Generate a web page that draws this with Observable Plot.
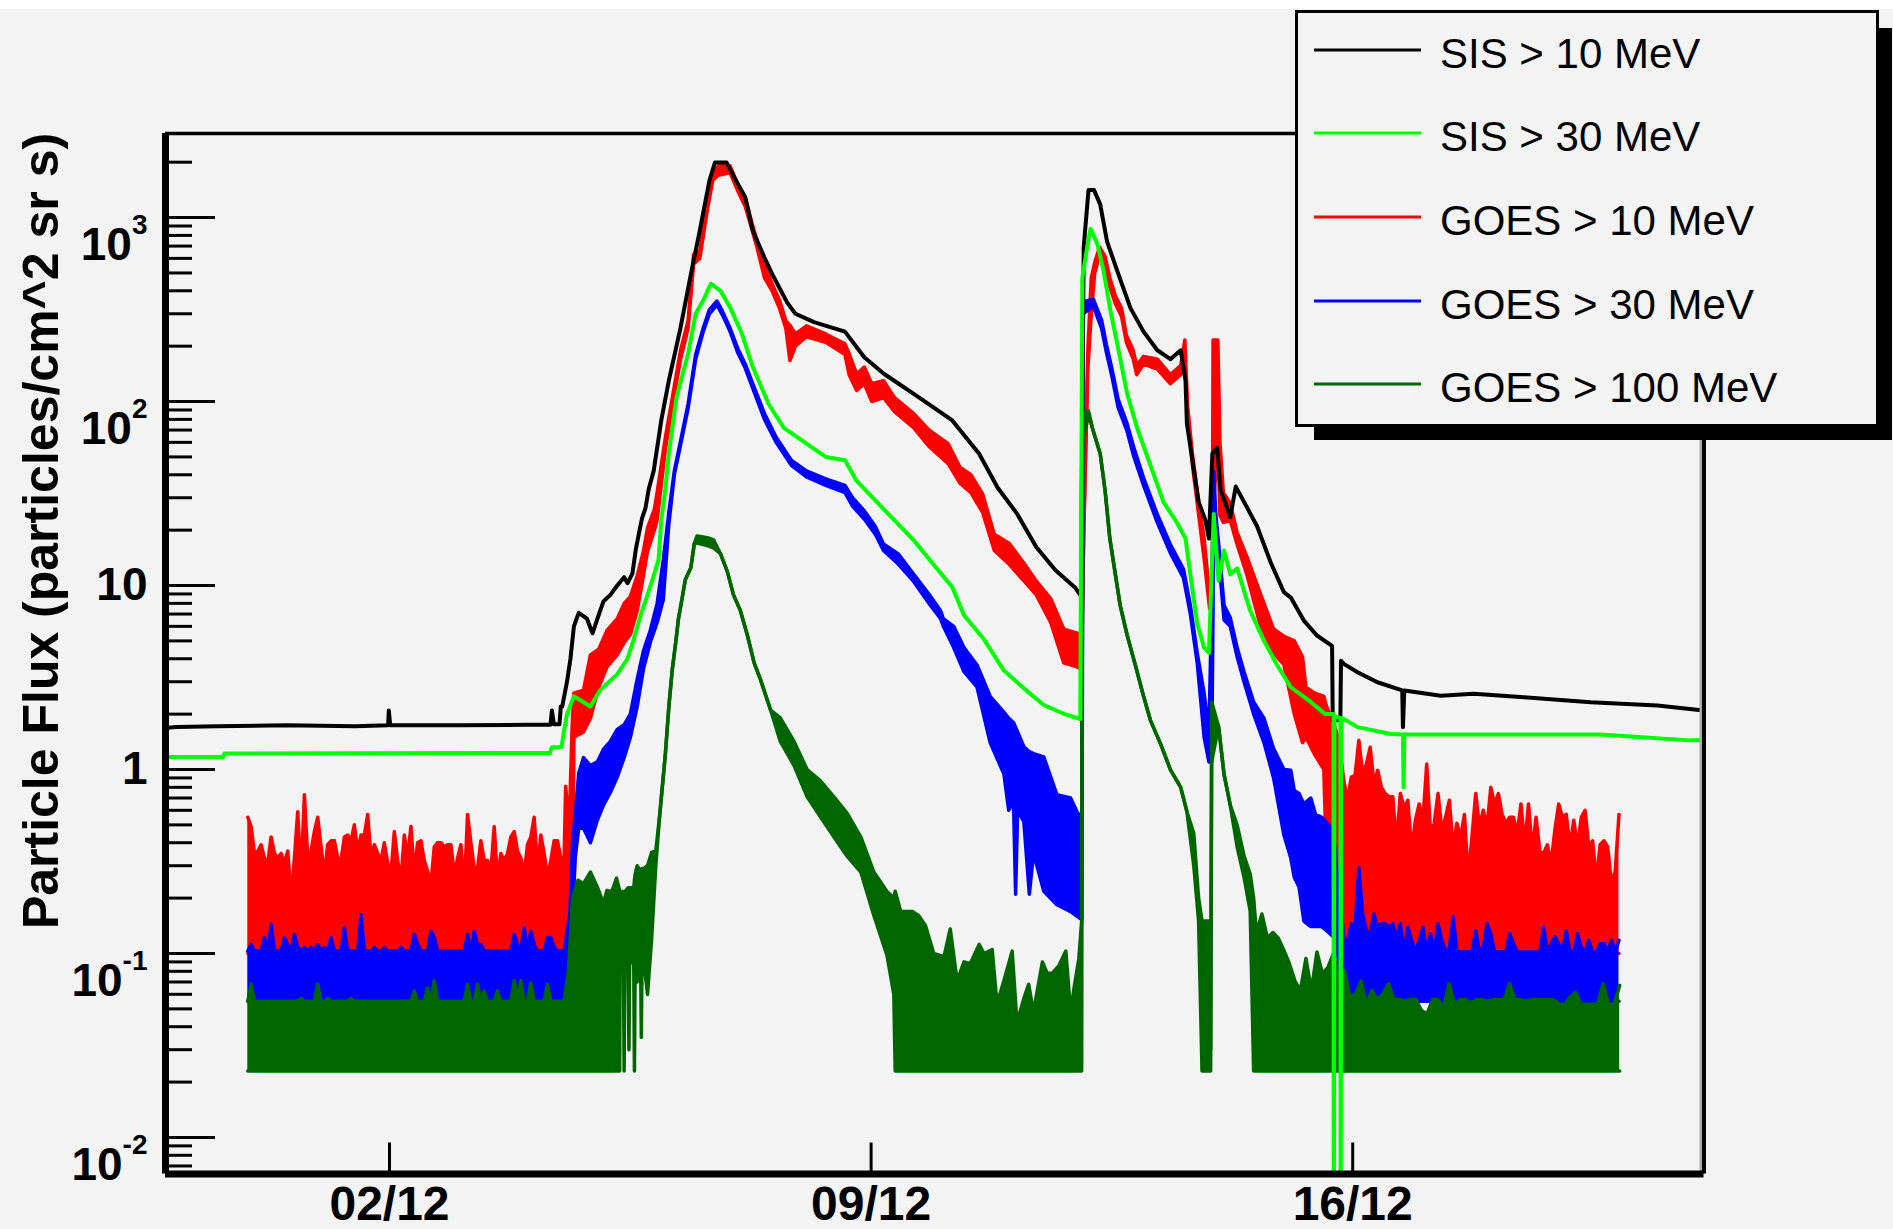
<!DOCTYPE html>
<html>
<head>
<meta charset="utf-8">
<script src="https://cdn.jsdelivr.net/npm/d3@7"></script>
<script src="https://cdn.jsdelivr.net/npm/@observablehq/plot@0.6"></script>
<style>
  html, body { margin: 0; padding: 0; background: #f3f3f3; }
  #wrap { position: relative; width: 1893px; height: 1229px; overflow: hidden; background: #f3f3f3;
          font-family: "Liberation Sans", Arial, Helvetica, sans-serif; }
  #wrap > svg { position: absolute; left: 0; top: 0; }
  #topstrip { position: absolute; left: 0; top: 0; width: 1893px; height: 9px; background: #fff; }
</style>
</head>
<body>
<div id="wrap"><div id="topstrip"></div></div>
<script>
// ---------------- DATA (time = fractional day of December 2006, UTC) ----------------
const seriesNames  = ["SIS > 10 MeV", "SIS > 30 MeV", "GOES > 10 MeV", "GOES > 30 MeV", "GOES > 100 MeV"];
const seriesColors = ["#000000", "#00ff00", "#ff0000", "#0000ff", "#006600"];

const xTickDays   = [2, 9, 16];
const xTickLabels = ["02/12", "09/12", "16/12"];
const yMajor      = [0.01, 0.1, 1, 10, 100, 1000];
const yTickLabels = ["10^-2", "10^-1", "1", "10", "10^2", "10^3"];
const yMinor      = [0.007, 0.008, 0.009,
                     0.02, 0.03, 0.04, 0.05, 0.06, 0.07, 0.08, 0.09,
                     0.2, 0.3, 0.4, 0.5, 0.6, 0.7, 0.8, 0.9,
                     2, 3, 4, 5, 6, 7, 8, 9,
                     20, 30, 40, 50, 60, 70, 80, 90,
                     200, 300, 400, 500, 600, 700, 800, 900, 2000];
const xDomainDays = [-1.256, 21.106];
const yDomain     = [0.00633, 2864];
const yTitle      = "Particle Flux (particles/cm^2 sr s)";

// SIS > 10 MeV  [day, flux]
const sis10 = [[-1.26,1.68],[-1.1,1.70],[-0.5,1.72],[0.5,1.74],[1.5,1.72],[1.98,1.74],[1.99,2.09],[2.01,1.74],
 [3.0,1.74],[4.0,1.75],[4.34,1.75],[4.36,2.09],[4.39,1.76],[4.47,1.76],[4.49,2.2],[4.51,2.2],[4.58,3.0],[4.63,4.0],
 [4.68,6.0],[4.75,7.1],[4.87,6.6],[4.95,5.5],[5.04,6.9],[5.11,8.2],[5.21,8.9],[5.31,10],[5.41,11.1],[5.46,10.3],
 [5.53,11.6],[5.58,15.7],[5.63,19.6],[5.67,23.2],[5.72,26.3],[5.77,33.7],[5.84,42],[5.95,79],[6.06,130],[6.23,252],
 [6.39,513],[6.51,850],[6.65,1590],[6.73,1990],[6.90,1990],[7.01,1660],[7.17,1290],[7.28,850],[7.45,606],[7.56,495],
 [7.78,345],[7.90,300],[8.17,270],[8.62,240],[8.90,174],[9.18,142],[9.62,110],[10.18,79],[10.57,52],[10.84,34],
 [11.12,24.6],[11.40,16.2],[11.68,12.1],[11.96,9.8],[12.05,8.8],[12.09,690],[12.16,1410],[12.24,1410],[12.33,1180],
 [12.43,740],[12.58,510],[12.77,322],[12.96,240],[13.16,190],[13.35,170],[13.50,190],[13.57,130],[13.59,76],
 [13.67,48],[13.76,28.5],[13.86,22.6],[13.91,18],[13.96,52],[14.03,56],[14.08,33],[14.15,28],[14.22,23.5],
 [14.30,34.5],[14.42,28.5],[14.61,21],[14.81,13.3],[15.00,9.2],[15.10,8.6],[15.29,6.45],[15.48,5.35],[15.70,4.7],
 [15.71,1.85],[15.82,1.85],[15.83,3.9],[15.87,3.75],[16.07,3.38],[16.36,2.98],[16.72,2.69],[16.73,1.7],[16.75,2.69],
 [17.28,2.52],[17.76,2.58],[18.49,2.47],[19.46,2.32],[20.43,2.23],[21.1,2.09]];

// SIS > 30 MeV  [day, flux]
const sis30 = [[-1.26,1.17],[-0.42,1.17],[-0.40,1.22],[4.33,1.23],[4.36,1.32],[4.50,1.32],[4.53,1.57],[4.58,2.0],
 [4.68,2.5],[4.92,2.2],[5.06,2.7],[5.31,3.3],[5.46,4.0],[5.55,5.1],[5.65,6.9],[5.75,8.9],[5.84,11.3],[5.91,13.8],
 [5.95,22.7],[6.01,33.7],[6.06,52],[6.17,105],[6.34,182],[6.45,300],[6.56,355],[6.67,437],[6.81,400],[6.95,325],
 [7.12,235],[7.28,154],[7.51,97],[7.73,72],[8.06,59],[8.34,50],[8.62,48],[8.79,37],[9.06,29],[9.34,22.6],
 [9.62,17.6],[9.90,13.1],[10.18,9.8],[10.35,6.9],[10.64,5.1],[10.93,3.45],[11.27,2.66],[11.51,2.24],[11.80,2.01],
 [12.04,1.88],[12.07,470],[12.14,690],[12.19,870],[12.29,715],[12.38,510],[12.48,310],[12.58,204],[12.72,111],
 [12.87,71],[13.06,45],[13.25,28.4],[13.45,21.8],[13.57,18],[13.64,11.5],[13.74,6.2],[13.84,4.6],[13.91,4.3],
 [13.98,24.5],[14.05,10.6],[14.13,15.5],[14.22,11.5],[14.32,12.4],[14.51,7.3],[14.71,5.0],[14.90,3.7],[15.10,2.8],
 [15.39,2.33],[15.60,2.0],[15.72,2.0],[15.725,0.001],[15.735,1.95],[15.82,1.9],[15.825,0.001],[15.835,1.9],
 [15.87,1.88],[16.07,1.7],[16.55,1.56],[16.73,1.55],[16.74,0.80],[16.75,1.55],[17.42,1.55],[19.6,1.55],
 [20.9,1.44],[21.1,1.44]];

// GOES envelopes of the noisy 5-minute data: [day, low, high]
const goes10 = [[4.56,0.10,0.81],[4.61,0.10,0.48],[4.655,0.10,1.73],[4.68,1.5,2.6],[4.82,1.6,2.7],[4.92,1.9,4.2],
 [5.04,2.8,4.5],[5.16,3.6,5.7],[5.31,4.2,6.6],[5.41,4.9,8.0],[5.50,5.4,8.7],[5.60,7.3,11.3],[5.69,11.3,15.3],
 [5.75,15.3,20.6],[5.85,20,26],[5.89,22.7,32],[6.01,55,64],[6.12,98,110],[6.23,170,190],[6.34,250,275],
 [6.42,560,630],[6.51,600,660],[6.62,1100,1240],[6.70,1600,1730],[6.78,1700,1910],[6.95,1750,1910],
 [7.06,1400,1520],[7.17,1150,1290],[7.26,880,960],[7.34,690,750],[7.45,470,560],[7.56,400,437],[7.67,320,355],
 [7.76,250,275],[7.82,167,260],[7.90,200,233],[8.06,225,258],[8.34,210,233],[8.62,180,206],[8.68,140,182],
 [8.79,115,141],[8.90,125,154],[9.01,100,125],[9.18,105,130],[9.34,88,105],[9.62,72,86],[9.84,57,70],
 [10.12,46,59],[10.29,36,44],[10.45,32,40],[10.62,25,31.5],[10.79,15.5,19],[11.01,13,16.9],[11.23,10.5,13.1],
 [11.40,8.9,10.6],[11.61,6.3,8.5],[11.80,3.8,5.8],[12.00,3.6,5.5],[12.06,3.5,4.5],[12.09,19,19],[12.15,150,190],
 [12.20,300,470],[12.25,500,570],[12.32,620,690],[12.40,560,615],[12.47,420,470],[12.55,340,375],[12.64,290,322],
 [12.71,210,229],[12.81,170,190],[12.86,140,157],[12.96,160,176],[13.16,150,170],[13.35,125,140],[13.50,140,157],
 [13.56,160,216],[13.60,85,95],[13.67,45,52],[13.74,28,33],[13.84,14,18],[13.92,7.5,9],[13.96,8,12],
 [13.97,25,216],[14.04,60,216],[14.07,24,60],[14.12,22,32],[14.22,22.6,28],[14.32,16.7,19.4],[14.46,11.5,14.4],
 [14.65,6.2,9.2],[14.85,4.3,5.8],[15.00,3.7,5.3],[15.15,2.0,5.0],[15.27,1.4,4.1],[15.32,1.5,2.8],[15.45,1.2,2.6],
 [15.58,1.0,2.5],[15.62,0.3,2.2],[15.72,0.15,1.8],[15.80,0.12,1.44]];

const goes30 = [[4.62,0.055,0.163],[4.66,0.16,0.40],[4.70,0.334,0.57],[4.75,0.48,0.955],[4.82,0.48,1.16],
 [4.92,0.40,1.05],[5.02,0.53,1.10],[5.11,0.64,1.29],[5.21,0.75,1.42],[5.31,0.91,1.65],[5.41,1.16,1.75],
 [5.50,1.49,2.0],[5.60,2.2,3.1],[5.69,3.5,4.4],[5.79,4.9,5.7],[5.89,6.3,8.0],[5.98,8.4,13.8],[6.06,21.6,25],
 [6.14,40,42],[6.23,58,61],[6.34,92,97],[6.45,170,180],[6.56,240,251],[6.65,300,316],[6.76,335,352],
 [6.84,295,309],[6.95,240,251],[7.06,185,195],[7.17,152,160],[7.28,118,125],[7.45,80,86],[7.62,60,64],
 [7.84,45,48],[8.06,39,42],[8.34,35,38],[8.62,32,35],[8.73,27,30],[8.90,23,25.5],[9.06,19,21],[9.18,15.5,16.8],
 [9.40,13,14.8],[9.62,10.5,11.5],[9.84,8.0,9.0],[10.01,6.6,7.3],[10.05,6.0,6.6],[10.20,4.6,6.0],[10.35,3.4,4.6],
 [10.54,2.8,3.7],[10.73,1.4,2.5],[10.93,0.945,2.05],[11.00,0.6,1.9],[11.07,0.67,1.8],[11.10,0.21,1.7],
 [11.13,0.6,1.6],[11.22,0.52,1.33],[11.30,0.21,1.25],[11.36,0.35,1.22],[11.51,0.218,1.17],[11.70,0.184,0.73],
 [11.90,0.169,0.70],[12.04,0.155,0.54],[12.065,0.155,0.6],[12.08,300,348],[12.23,330,360],[12.35,250,277],
 [12.42,185,204],[12.50,137,151],[12.59,93,103],[12.72,69,76],[12.82,50,56],[12.96,35,38.5],[13.16,22,24.4],
 [13.35,15,16.7],[13.54,11,12.3],[13.64,7,7.8],[13.74,3.8,4.3],[13.84,1.5,2.6],[13.91,1.1,1.6],[13.95,1.1,7.8],
 [13.98,20,41.5],[14.01,20,24.4],[14.06,13,15.5],[14.13,6.5,7.8],[14.22,6,6.7],[14.32,4.1,4.6],[14.42,3.0,3.4],
 [14.56,2.0,2.33],[14.71,1.4,1.9],[14.85,0.9,1.3],[15.00,0.44,1.0],[15.10,0.33,0.99],[15.15,0.26,0.77],
 [15.22,0.23,0.74],[15.29,0.15,0.65],[15.39,0.14,0.70],[15.46,0.14,0.57],[15.55,0.14,0.55],[15.65,0.13,0.50],
 [15.72,0.123,0.45],[15.78,0.1,0.26]];

const goes100 = [[4.60,0.023,0.08],[4.66,0.023,0.20],[4.74,0.023,0.25],[4.82,0.023,0.24],[4.92,0.023,0.277],
 [5.02,0.023,0.23],[5.11,0.023,0.187],[5.16,0.023,0.22],[5.23,0.023,0.217],[5.30,0.023,0.257],[5.345,0.023,0.22],
 [5.35,0.089,0.217],[5.40,0.089,0.217],[5.41,0.023,0.217],[5.42,0.089,0.217],[5.47,0.08,0.228],[5.48,0.03,0.228],
 [5.49,0.089,0.228],[5.55,0.089,0.228],[5.56,0.023,0.25],[5.57,0.085,0.27],[5.60,0.07,0.30],[5.65,0.089,0.277],
 [5.66,0.035,0.28],[5.67,0.089,0.29],[5.70,0.089,0.29],[5.75,0.06,0.30],[5.81,0.12,0.355],[5.87,0.3,0.36],
 [5.93,0.58,0.58],[6.01,1.22,1.22],[6.06,2.2,2.2],
 [6.11,3.5,3.5],[6.16,4.9,4.9],[6.20,6.6,6.6],[6.25,8.4,8.4],[6.30,10.8,10.8],[6.38,12.5,12.5],[6.43,16.9,16.9],
 [6.47,17,18.6],[6.62,16.5,18.2],[6.71,16,17.7],[6.81,14.9,14.9],[6.91,11.9,11.9],[7.00,8.9,8.9],[7.10,7.3,7.3],
 [7.20,5.4,5.4],[7.30,3.8,3.8],[7.39,3.1,3.1],[7.54,2.1,2.1],[7.68,1.42,1.91],[7.88,1.05,1.42],[8.07,0.71,1.0],
 [8.26,0.555,0.87],[8.46,0.43,0.71],[8.65,0.338,0.58],[8.85,0.277,0.43],[9.04,0.161,0.277],[9.23,0.098,0.217],
 [9.33,0.06,0.20],[9.35,0.023,0.218],[9.43,0.023,0.169],[9.50,0.023,0.169],[9.60,0.023,0.169],[9.69,0.023,0.161],
 [9.79,0.023,0.142],[9.91,0.023,0.100],[10.06,0.023,0.096],[10.15,0.023,0.136],[10.25,0.023,0.071],
 [10.35,0.023,0.090],[10.44,0.023,0.088],[10.57,0.023,0.112],[10.64,0.023,0.100],[10.76,0.023,0.105],
 [10.83,0.023,0.053],[10.93,0.023,0.071],[11.05,0.023,0.103],[11.12,0.023,0.042],[11.22,0.023,0.057],
 [11.29,0.023,0.068],[11.36,0.023,0.048],[11.49,0.023,0.090],[11.56,0.023,0.078],[11.63,0.023,0.078],
 [11.73,0.023,0.086],[11.83,0.023,0.103],[11.90,0.023,0.048],[11.95,0.023,0.065],[12.02,0.023,0.094],
 [12.06,0.023,0.15],[12.075,60,89],[12.16,85,89],[12.22,71,71],[12.33,52,52],[12.40,33,33],[12.47,18,18],
 [12.55,11.5,11.5],[12.62,7.8,7.8],[12.72,5.4,5.4],[12.84,3.7,3.7],[12.96,2.5,2.5],[13.06,1.85,1.85],
 [13.21,1.37,1.37],[13.35,1.0,1.0],[13.50,0.80,0.80],[13.59,0.59,0.59],[13.69,0.30,0.45],[13.76,0.15,0.2],
 [13.81,0.023,0.15],[13.92,0.023,0.15],[13.935,0.023,0.03],[13.95,1.1,2.33],[14.05,1.72,1.72],[14.13,0.94,0.94],
 [14.22,0.64,0.64],[14.32,0.38,0.5],[14.42,0.26,0.34],[14.51,0.17,0.27],[14.56,0.023,0.2]];

// quiet-time background before the first event: regular bins, top of the noise band
const quietStart = -0.06, quietStep = 0.0484;
const goes10QuietFloor = 0.10, goes30QuietFloor = 0.055, goes100QuietFloor = 0.023;
const goes10QuietTop = [0.55,0.49,0.35,0.36,0.39,0.33,0.31,0.43,0.35,0.33,0.35,0.31,0.36,0.20,0.33,0.59,0.26,0.73,0.33,0.36,
 0.46,0.55,0.38,0.27,0.39,0.41,0.41,0.33,0.32,0.43,0.44,0.41,0.50,0.36,0.44,0.44,0.57,0.33,0.39,0.35,
 0.32,0.40,0.31,0.27,0.46,0.32,0.25,0.44,0.33,0.49,0.27,0.40,0.41,0.32,0.28,0.24,0.38,0.40,0.40,0.38,
 0.39,0.39,0.27,0.33,0.39,0.22,0.57,0.40,0.29,0.29,0.41,0.32,0.32,0.28,0.49,0.25,0.35,0.32,0.35,0.43,
 0.46,0.36,0.33,0.27,0.39,0.43,0.55,0.29,0.44,0.35,0.26,0.32,0.41,0.41,0.33,0.33];
const goes30QuietTop = [0.103,0.112,0.103,0.103,0.103,0.122,0.103,0.144,0.103,0.103,0.103,0.122,0.112,0.103,0.127,0.108,
 0.103,0.108,0.103,0.108,0.103,0.112,0.103,0.108,0.103,0.122,0.103,0.103,0.103,0.138,0.103,0.103,0.103,0.103,0.163,
 0.103,0.103,0.103,0.108,0.103,0.103,0.108,0.103,0.103,0.103,0.103,0.108,0.103,0.103,0.103,0.127,0.112,0.103,0.103,
 0.103,0.132,0.122,0.103,0.103,0.103,0.103,0.103,0.103,0.103,0.103,0.103,0.127,0.103,0.132,0.112,0.112,0.103,0.103,
 0.103,0.103,0.103,0.103,0.103,0.103,0.103,0.127,0.112,0.103,0.138,0.103,0.132,0.112,0.103,0.103,0.103,0.122,0.122,
 0.108,0.103,0.103,0.103];
const goes100QuietTop = [0.055,0.068,0.055,0.055,0.055,0.055,0.055,0.055,0.055,0.055,0.055,0.055,0.055,0.055,0.055,0.055,
 0.057,0.055,0.055,0.055,0.055,0.068,0.055,0.055,0.057,0.055,0.055,0.055,0.055,0.055,0.055,0.057,0.055,0.055,0.055,
 0.055,0.055,0.055,0.055,0.055,0.055,0.055,0.055,0.055,0.055,0.055,0.055,0.055,0.055,0.055,0.0625,0.055,0.055,0.055,
 0.065,0.055,0.071,0.055,0.055,0.055,0.055,0.055,0.055,0.055,0.055,0.055,0.068,0.055,0.055,0.068,0.055,0.0625,0.055,
 0.055,0.055,0.0625,0.055,0.055,0.055,0.055,0.071,0.055,0.071,0.055,0.055,0.069,0.055,0.055,0.055,0.055,0.068,0.055,
 0.055,0.055,0.055,0.055];

// background after the second event: regular bins, top of the noise band
const tailStart = 15.87, tailStep = 0.0548;
const goes10TailFloor = 0.10, goes30TailFloor = 0.055;
const goes10TailTop = [0.87,0.68,0.91,0.93,1.44,0.95,1.07,1.32,0.84,0.99,0.80,0.74,0.71,0.71,0.39,0.74,0.62,0.68,0.36,0.53,
 0.65,0.53,1.07,0.45,0.51,0.74,0.47,0.55,0.68,0.38,0.51,0.43,0.57,0.26,0.43,0.74,0.49,0.60,0.49,0.80,
 0.65,0.74,0.57,0.51,0.55,0.55,0.45,0.65,0.39,0.65,0.36,0.55,0.36,0.35,0.39,0.31,0.47,0.65,0.55,0.57,
 0.38,0.53,0.38,0.55,0.60,0.38,0.41,0.25,0.39,0.41,0.38,0.24,0.28,0.57];
const goes30TailTop = [0.123,0.113,0.145,0.139,0.294,0.164,0.133,0.128,0.164,0.139,0.145,0.145,0.139,0.145,0.123,0.145,
 0.102,0.139,0.118,0.102,0.118,0.139,0.102,0.128,0.102,0.145,0.118,0.102,0.108,0.158,0.102,0.102,0.102,0.102,0.102,
 0.133,0.102,0.108,0.145,0.128,0.102,0.102,0.102,0.102,0.128,0.113,0.102,0.102,0.102,0.102,0.102,0.102,0.102,0.139,
 0.102,0.113,0.123,0.113,0.102,0.133,0.102,0.102,0.128,0.108,0.102,0.118,0.102,0.102,0.113,0.113,0.102,0.118,0.102,
 0.118];
const dgTailStart = 14.6, dgTailStep = 0.08, goes100TailFloor = 0.023;
const goes100TailTop = [0.13,0.164,0.121,0.13,0.121,0.104,0.088,0.071,0.063,0.094,0.063,0.102,0.078,0.084,0.10,0.071,
 0.081,0.058,0.060,0.071,0.053,0.063,0.056,0.060,0.0685,0.056,0.056,0.055,0.056,0.056,0.049,0.047,0.056,0.056,0.051,
 0.0685,0.053,0.056,0.056,0.054,0.056,0.056,0.055,0.056,0.056,0.056,0.0685,0.056,0.056,0.055,0.056,0.056,0.056,0.056,
 0.056,0.053,0.053,0.058,0.0616,0.053,0.053,0.053,0.053,0.0685,0.053,0.053,0.067];

// ---------------- BUILD TABLES ----------------
const DAY = 86400000;
const T0 = Date.UTC(2006, 11, 1);
const toDate = d => new Date(T0 + (d - 1) * DAY);

const lineRows = arr => arr.map(([d, v]) => ({t: toDate(d), v}));
const binRows = (start, step, tops, floor) => tops.map((v, i) => ({t: toDate(start + i * step), lo: floor, hi: v}));
const envRows = arr => arr.map(([d, lo, hi]) => ({t: toDate(d), lo, hi}));

const goes10Rows = [...binRows(quietStart, quietStep, goes10QuietTop, goes10QuietFloor), ...envRows(goes10),
                    ...binRows(tailStart, tailStep, goes10TailTop, goes10TailFloor)];
const goes30Rows = [...binRows(quietStart, quietStep, goes30QuietTop, goes30QuietFloor), ...envRows(goes30),
                    ...binRows(tailStart, tailStep, goes30TailTop, goes30TailFloor)];
const goes100Rows = [...binRows(quietStart, quietStep, goes100QuietTop, goes100QuietFloor), ...envRows(goes100),
                     ...binRows(dgTailStart, dgTailStep, goes100TailTop, goes100TailFloor)];

const W = 1893, H = 1229;
const mLeft = 165, mRight = 189.5, mTop = 133, mBottom = 55.5;
const plotW = W - mLeft - mRight, plotH = H - mTop - mBottom;

function band(rows, color) {
  return [
    Plot.areaY(rows, {x: "t", y1: "lo", y2: "hi", fill: color, clip: true}),
    Plot.line(rows, {x: "t", y: "hi", stroke: color, strokeWidth: 3.5, strokeLinejoin: "round", clip: true}),
    Plot.line(rows, {x: "t", y: "lo", stroke: color, strokeWidth: 3.5, strokeLinejoin: "round", clip: true})
  ];
}

const xTickDates = xTickDays.map(toDate);
const xLabelMap = new Map(xTickDates.map((d, i) => [+d, xTickLabels[i]]));
const yLabelMap = new Map(yMajor.map((v, i) => [v, yTickLabels[i]]));
const xDomain = xDomainDays.map(toDate);

const chart = Plot.plot({
  width: W, height: H,
  marginLeft: mLeft, marginRight: mRight, marginTop: mTop, marginBottom: mBottom,
  style: {background: "transparent", color: "#000", fontFamily: '"Liberation Sans", Arial, Helvetica, sans-serif', overflow: "visible"},
  x: {type: "utc", domain: xDomain},
  y: {type: "log", domain: yDomain},
  marks: [
    ...band(goes10Rows, seriesColors[2]),
    ...band(goes30Rows, seriesColors[3]),
    ...band(goes100Rows, seriesColors[4]),
    Plot.line(lineRows(sis10), {x: "t", y: "v", stroke: seriesColors[0], strokeWidth: 4, strokeLinejoin: "round", clip: true}),
    Plot.line(lineRows(sis30), {x: "t", y: "v", stroke: seriesColors[1], strokeWidth: 4, strokeLinejoin: "round", clip: true}),
    // inward ticks
    Plot.ruleY(yMinor, {stroke: "#000", strokeWidth: 3, insetRight: plotW - 27}),
    Plot.ruleY(yMajor, {stroke: "#000", strokeWidth: 3, insetRight: plotW - 50}),
    Plot.ruleX(xTickDates, {stroke: "#000", strokeWidth: 3, insetTop: plotH - 31}),
    // frame
    Plot.ruleX([xDomain[1]], {stroke: "#aaaaaa", strokeWidth: 3, dx: -3}),
    Plot.ruleX([xDomain[1]], {stroke: "#000", strokeWidth: 4}),
    Plot.ruleY([yDomain[1]], {stroke: "#000", strokeWidth: 3.5}),
    Plot.ruleX([xDomain[0]], {stroke: "#000", strokeWidth: 7}),
    Plot.ruleY([yDomain[0]], {stroke: "#000", strokeWidth: 7}),
    // axis labels
    Plot.axisY({ticks: yMajor, anchor: "left", tickSize: 0, tickPadding: 18, label: null,
                tickFormat: v => yLabelMap.get(v), fontSize: 46, fontWeight: "bold"}),
    Plot.axisX({ticks: xTickDates, anchor: "bottom", tickSize: 0, tickPadding: 12, label: null,
                tickFormat: d => xLabelMap.get(+d), fontSize: 48, fontWeight: "bold"})
  ]
});

document.getElementById("wrap").appendChild(chart);

const svg = d3.select(chart);
// y tick labels: base + superscript exponent
svg.selectAll('g[aria-label="y-axis tick label"]').attr("font-size", 46).attr("font-weight", "bold");
svg.selectAll('g[aria-label="y-axis tick label"] text').each(function () {
  const s = this.textContent;
  const parts = s.split("^");
  const t = d3.select(this);
  t.attr("font-size", 46).attr("font-weight", "bold");
  if (parts.length === 2) {
    t.text(parts[0]).attr("dy", "0.6em");
    t.append("tspan").attr("font-size", 28).attr("dy", -26).text(parts[1]);
  }
});
svg.selectAll('g[aria-label="x-axis tick label"]').attr("font-size", 48).attr("font-weight", "bold");
svg.selectAll('g[aria-label="x-axis tick label"] text').attr("font-size", 48).attr("font-weight", "bold");

// y-axis title
svg.append("text")
  .attr("transform", `translate(58, 531) rotate(-90)`)
  .attr("text-anchor", "middle")
  .attr("font-size", 50)
  .attr("font-weight", "bold")
  .attr("fill", "#000")
  .text(yTitle);

// ---------------- LEGEND ----------------
const legW = 584, legH = 417, rowY = [40, 123, 207, 291, 374];
const leg = d3.select("#wrap").append("svg")
  .attr("width", 598).attr("height", 431)
  .style("position", "absolute").style("left", "1295px").style("top", "10px")
  .style("font-family", '"Liberation Sans", Arial, Helvetica, sans-serif');
leg.append("rect").attr("x", legW).attr("y", 18).attr("width", 13).attr("height", legH + 13 - 18).attr("fill", "#000");
leg.append("rect").attr("x", 19).attr("y", legH).attr("width", legW + 13 - 19).attr("height", 13).attr("fill", "#000");
leg.append("rect").attr("x", 1.5).attr("y", 1.5).attr("width", legW - 3).attr("height", legH - 3)
  .attr("fill", "#f3f3f3").attr("stroke", "#000").attr("stroke-width", 3);
seriesNames.forEach((name, i) => {
  leg.append("line").attr("x1", 19).attr("x2", 126).attr("y1", rowY[i]).attr("y2", rowY[i])
    .attr("stroke", seriesColors[i]).attr("stroke-width", 3);
  leg.append("text").attr("x", 145).attr("y", rowY[i] + 18).attr("font-size", 42).attr("fill", "#000").text(name);
});
</script>
</body>
</html>
